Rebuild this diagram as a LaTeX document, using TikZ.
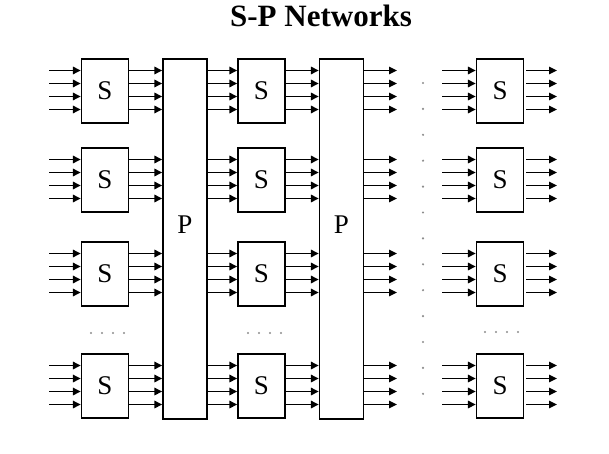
\documentclass[tikz,border=0pt]{standalone}
\usepackage{fontspec}
\setmainfont{Liberation Serif}
\usetikzlibrary{positioning, arrows.meta, calc}

\begin{document}
\begin{tikzpicture}[
  x=1pt, y=-1pt,
  sbox/.style={
    rectangle, draw=black, line width=1.4pt,
    minimum width=47pt, minimum height=64pt, inner sep=0pt,
    font=\fontsize{27}{30}\selectfont,
  },
  pbox/.style={
    rectangle, draw=black, line width=1.4pt,
    minimum width=44pt, minimum height=360pt, inner sep=0pt,
  },
  wire/.style={line width=1.6pt, -{Triangle[length=8pt,width=7.5pt]}},
  dotmark/.style={fill=black!45},
]
\useasboundingbox (0,0) rectangle (609,454);

\node[font=\bfseries\fontsize{31}{34}\selectfont] (title) at (321,16) {S-P Networks};

% the two permutation boxes
\node[pbox] (p1) at (185,239) {};
\node[pbox] (p2) at (341.5,239) {};
\node[font=\fontsize{27}{30}\selectfont] (p1t) at (185,225) {P};
\node[font=\fontsize{27}{30}\selectfont] (p2t) at (341.5,225) {P};

% free ends of the wires
\coordinate (o2) at (397,0);
\coordinate (o3) at (557,0);

\foreach \r/\t in {1/59, 2/148, 3/242, 4/354} {
  \node[sbox] (s1\r) at (105,\t+32) {S};
  \node[sbox] (s2\r) at (261.5,\t+32) {S};
  \node[sbox] (s3\r) at (500,\t+32) {S};
  \foreach \k/\o in {1/-19.5, 2/-6.5, 3/6.5, 4/19.5} {
    \coordinate (a\r\k) at (49,\t+31+\o);
    \coordinate (b\r\k) at (442,\t+31+\o);
    \draw[wire] (a\r\k) -- (a\r\k -| s1\r.west);
    \draw[wire] (a\r\k -| s1\r.east) -- (a\r\k -| p1.west);
    \draw[wire] (a\r\k -| p1.east) -- (a\r\k -| s2\r.west);
    \draw[wire] (a\r\k -| s2\r.east) -- (a\r\k -| p2.west);
    \draw[wire] (a\r\k -| p2.east) -- (a\r\k -| o2);
    \draw[wire] (b\r\k) -- (b\r\k -| s3\r.west);
    \draw[wire] ($(b\r\k -| s3\r.east)+(2,0)$) -- (b\r\k -| o3);
  }
}

% elided rows and stages
\foreach \x in {0,11,22,33} {
  \fill[dotmark] (91+\x,333) circle (1.2pt);
  \fill[dotmark] (248+\x,333) circle (1.2pt);
  \fill[dotmark] (485+\x,332) circle (1.2pt);
}
\foreach \i in {0,...,12}
  \fill[dotmark] (423,83+25.9*\i) circle (1.2pt);

\end{tikzpicture}
\end{document}
